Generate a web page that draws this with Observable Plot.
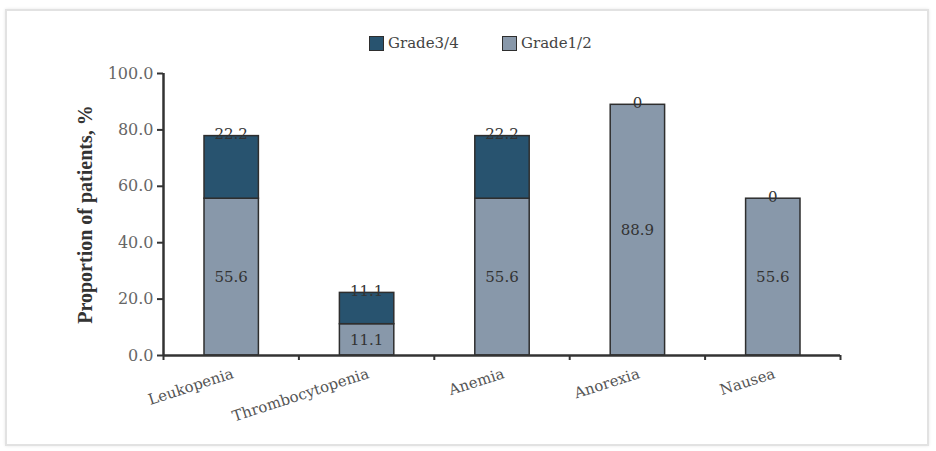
<!DOCTYPE html>
<html>
<head>
<meta charset="utf-8">
<script src="https://cdn.jsdelivr.net/npm/d3@7"></script>
<script src="https://cdn.jsdelivr.net/npm/@observablehq/plot@0.6"></script>
<style>
  body { margin: 0; background: #fff; }
  #wrap { position: relative; width: 936px; height: 451px; overflow: hidden; background: #fff; }
  #frame { position: absolute; left: 5px; top: 9px; width: 920px; height: 433px; border: 2px solid #e2e2e2; box-shadow: 0 0 3px #e8e8e8; }
  #legend { position: absolute; top: 0; left: 0; width: 936px; height: 58px; font-family: "DejaVu Serif", serif; font-size: 15px; color: #444; }
  .item { position: absolute; top: 34px; display: flex; align-items: center; height: 18px; }
  .sw { width: 13px; height: 13px; border: 1px solid #2e2e2e; margin-right: 4px; }
  #chart { position: absolute; left: 0; top: 58px; }
</style>
</head>
<body>
<div id="wrap">
  <div id="frame"></div>
  <div id="legend"></div>
  <div id="chart"></div>
</div>
<script>
const categories = ["Leukopenia", "Thrombocytopenia", "Anemia", "Anorexia", "Nausea"];
const grade12 = [55.6, 11.1, 55.6, 88.9, 55.6];
const grade34 = [22.2, 11.1, 22.2, 0, 0];
const seriesNames = ["Grade3/4", "Grade1/2"];
const seriesColors = ["#28536f", "#8898aa"];
const yTicks = [0, 20, 40, 60, 80, 100];

const rows = categories.map((c, i) => ({
  cat: c, i, g12: grade12[i], g34: grade34[i], total: grade12[i] + grade34[i]
}));

// legend
const legend = document.getElementById("legend");
const legendLeft = [369, 502];
seriesNames.forEach((n, k) => {
  const d = document.createElement("div");
  d.className = "item";
  d.style.left = legendLeft[k] + "px";
  d.innerHTML = `<span class="sw" style="background:${seriesColors[k]}"></span><span>${n}</span>`;
  legend.appendChild(d);
});

const serif = "DejaVu Serif";
const chart = Plot.plot({
  width: 936,
  height: 393,
  marginTop: 15,
  marginBottom: 96,
  marginLeft: 163,
  marginRight: 96,
  style: { fontFamily: serif, fontSize: "15px", color: "#555", background: "transparent" },
  x: { type: "linear", domain: [0, categories.length], axis: null },
  y: { domain: [0, 100], axis: null },
  marks: [
    Plot.rectY(rows, { x1: d => d.i, x2: d => d.i + 1, y1: 0, y2: d => d.g12, fill: seriesColors[1], stroke: "#2e2e2e", strokeWidth: 1.5, insetLeft: 41, insetRight: 40 }),
    Plot.rectY(rows.filter(d => d.g34 > 0), { x1: d => d.i, x2: d => d.i + 1, y1: d => d.g12, y2: d => d.total, fill: seriesColors[0], stroke: "#2e2e2e", strokeWidth: 1.5, insetLeft: 41, insetRight: 40 }),
    Plot.ruleY([0], { stroke: "#333", strokeWidth: 2.5 }),
    Plot.ruleX([0], { stroke: "#333", strokeWidth: 2.5 }),
    Plot.axisY({ ticks: yTicks, tickFormat: d => d.toFixed(1), tickSize: 6, tickPadding: 4, stroke: "#333", strokeWidth: 2, fontFamily: serif, fontSize: 16, fill: "#666", label: null }),
    Plot.axisX({ ticks: d3.range(categories.length + 1), tickFormat: () => "", tickSize: 5, stroke: "#333", strokeWidth: 2, label: null }),
    Plot.text(["Proportion of patients, %"], { frameAnchor: "left", textAnchor: "middle", dx: -78, rotate: -90, fontFamily: "Liberation Serif", fontWeight: "bold", fontSize: 20, fill: "#333" }),
    Plot.text(rows, { x: d => d.i + 0.5, y: 0, text: "cat", rotate: -18, textAnchor: "end", lineAnchor: "top", dy: 12, dx: 0, fontFamily: serif, fontSize: 15, fill: "#555" }),
    Plot.text(rows, { x: d => d.i + 0.5, y: d => d.g12 / 2, text: d => d.g12.toFixed(1), fontFamily: serif, fontSize: 15, fill: "#333" }),
    Plot.text(rows, { x: d => d.i + 0.5, y: d => d.total, text: d => d.g34 === 0 ? "0" : d.g34.toFixed(1), lineAnchor: "bottom", dy: 3, fontFamily: serif, fontSize: 15, fill: "#333" })
  ]
});
document.getElementById("chart").appendChild(chart);
</script>
</body>
</html>
